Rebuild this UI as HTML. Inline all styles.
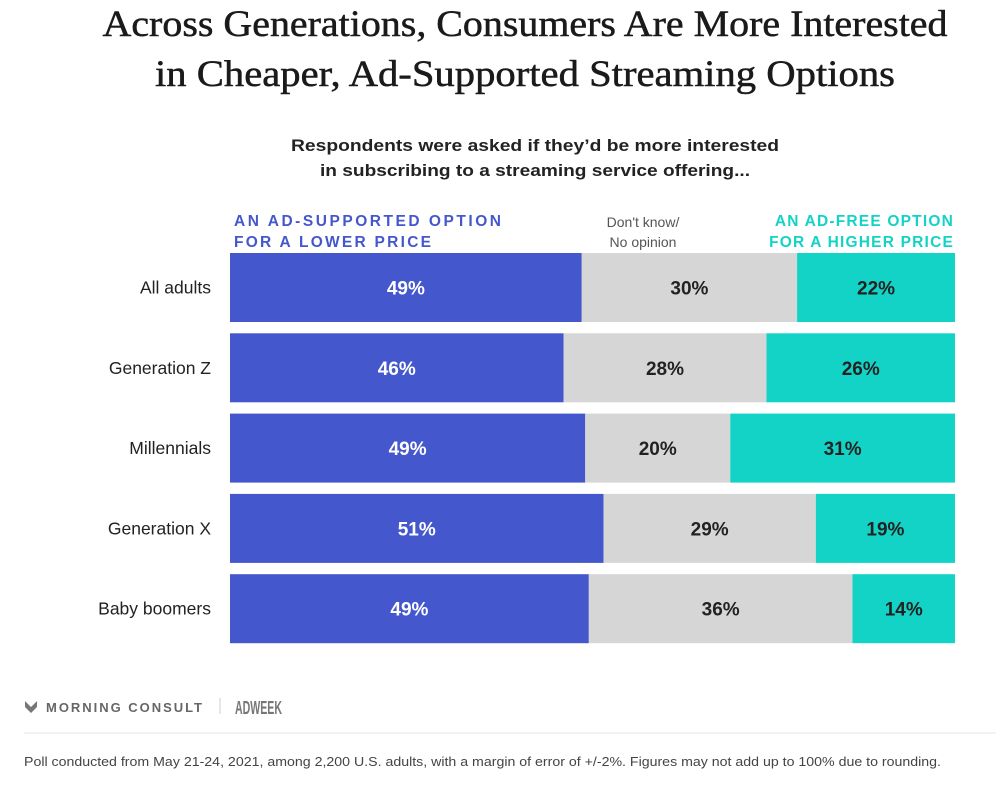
<!DOCTYPE html>
<html><head><meta charset="utf-8"><style>
html,body{margin:0;padding:0;background:#fff;}
svg{display:block;font-family:"Liberation Sans",sans-serif;}
</style></head><body>
<svg id="chart" width="996" height="793" viewBox="0 0 996 793">
<text x="525" y="36" text-anchor="middle" font-family="Liberation Serif,serif" font-size="37" fill="#1a1a1a" stroke="#1a1a1a" stroke-width="0.5" textLength="845" lengthAdjust="spacingAndGlyphs">Across Generations, Consumers Are More Interested</text>
<text x="525" y="86" text-anchor="middle" font-family="Liberation Serif,serif" font-size="37" fill="#1a1a1a" stroke="#1a1a1a" stroke-width="0.5" textLength="740" lengthAdjust="spacingAndGlyphs">in Cheaper, Ad-Supported Streaming Options</text>
<text x="535" y="151" text-anchor="middle" font-size="17" font-weight="bold" fill="#222" textLength="488" lengthAdjust="spacingAndGlyphs">Respondents were asked if they’d be more interested</text>
<text x="535" y="176" text-anchor="middle" font-size="17" font-weight="bold" fill="#222" textLength="430" lengthAdjust="spacingAndGlyphs">in subscribing to a streaming service offering...</text>
<g>
<text x="234" y="226" font-size="15.5" font-weight="bold" fill="#4457CC" textLength="267" lengthAdjust="spacing">AN AD-SUPPORTED OPTION</text>
<text x="234" y="247" font-size="15.5" font-weight="bold" fill="#4457CC" textLength="197" lengthAdjust="spacing">FOR A LOWER PRICE</text>
<text x="643" y="227" text-anchor="middle" font-size="14" fill="#555">Don't know/</text>
<text x="643" y="247" text-anchor="middle" font-size="14" fill="#555">No opinion</text>
<text x="954" y="226" text-anchor="end" font-size="15.5" font-weight="bold" fill="#12D3C6" letter-spacing="1.2">AN AD-FREE OPTION</text>
<text x="954" y="247" text-anchor="end" font-size="15.5" font-weight="bold" fill="#12D3C6" letter-spacing="1.2">FOR A HIGHER PRICE</text>
</g>
<g id="bars"></g>
<g>
<path d="M25 701 l6 6 l6 -6 v6 l-6 6 l-6 -6z" fill="#777"/>
<text x="46" y="712" font-size="13" font-weight="bold" fill="#666" textLength="156" lengthAdjust="spacing">MORNING CONSULT</text>
<line x1="220" y1="698" x2="220" y2="714" stroke="#ccc"/>
<text x="235" y="714" font-size="18" font-weight="bold" fill="#777" textLength="47" lengthAdjust="spacingAndGlyphs">ADWEEK</text>
</g>
<line x1="24" y1="733" x2="996" y2="733" stroke="#eee" stroke-width="1.5"/>
<text x="24" y="766" font-size="13" fill="#444" textLength="917" lengthAdjust="spacingAndGlyphs">Poll conducted from May 21-24, 2021, among 2,200 U.S. adults, with a margin of error of +/-2%. Figures may not add up to 100% due to rounding.</text>
</svg>
<script>
const categories = ["All adults","Generation Z","Millennials","Generation X","Baby boomers"];
const adSupported = [49,46,49,51,49];
const dontKnow = [30,28,20,29,36];
const adFree = [22,26,31,19,14];
const colors = ["#4457CC","#D6D6D6","#12D3C6"];
const textColors = ["#fff","#222","#222"];
const segNames = ["ad-supported","dont-know","ad-free"];
const x0 = 230, x1 = 955, yTop = 253, rowStep = 80.3, barH = 69;
const g = document.getElementById('bars');
const NS = "http://www.w3.org/2000/svg";
categories.forEach((cat, i) => {
  const vals = [adSupported[i], dontKnow[i], adFree[i]];
  const total = vals.reduce((a,b)=>a+b,0);
  const y = yTop + i*rowStep;
  const lab = document.createElementNS(NS,'text');
  lab.setAttribute('x',211); lab.setAttribute('y',y+barH/2+6);
  lab.setAttribute('text-anchor','end'); lab.setAttribute('font-size','17.5'); lab.setAttribute('fill','#222');
  lab.textContent = cat;
  
  
  g.appendChild(lab);
  let cx = x0;
  vals.forEach((v, j) => {
    const w = v/total*(x1-x0);
    const r = document.createElementNS(NS,'rect');
    r.setAttribute('x',cx); r.setAttribute('y',y); r.setAttribute('width',w); r.setAttribute('height',barH);
    r.setAttribute('fill',colors[j]);
    
    
    g.appendChild(r);
    const t = document.createElementNS(NS,'text');
    t.setAttribute('x',cx+w/2); t.setAttribute('y',y+barH/2+7);
    t.setAttribute('text-anchor','middle'); t.setAttribute('font-size','19'); t.setAttribute('font-weight','bold');
    t.setAttribute('fill',textColors[j]);
    t.textContent = v + '%';
    
    
    g.appendChild(t);
    cx += w;
  });
});
</script>
</body></html>
